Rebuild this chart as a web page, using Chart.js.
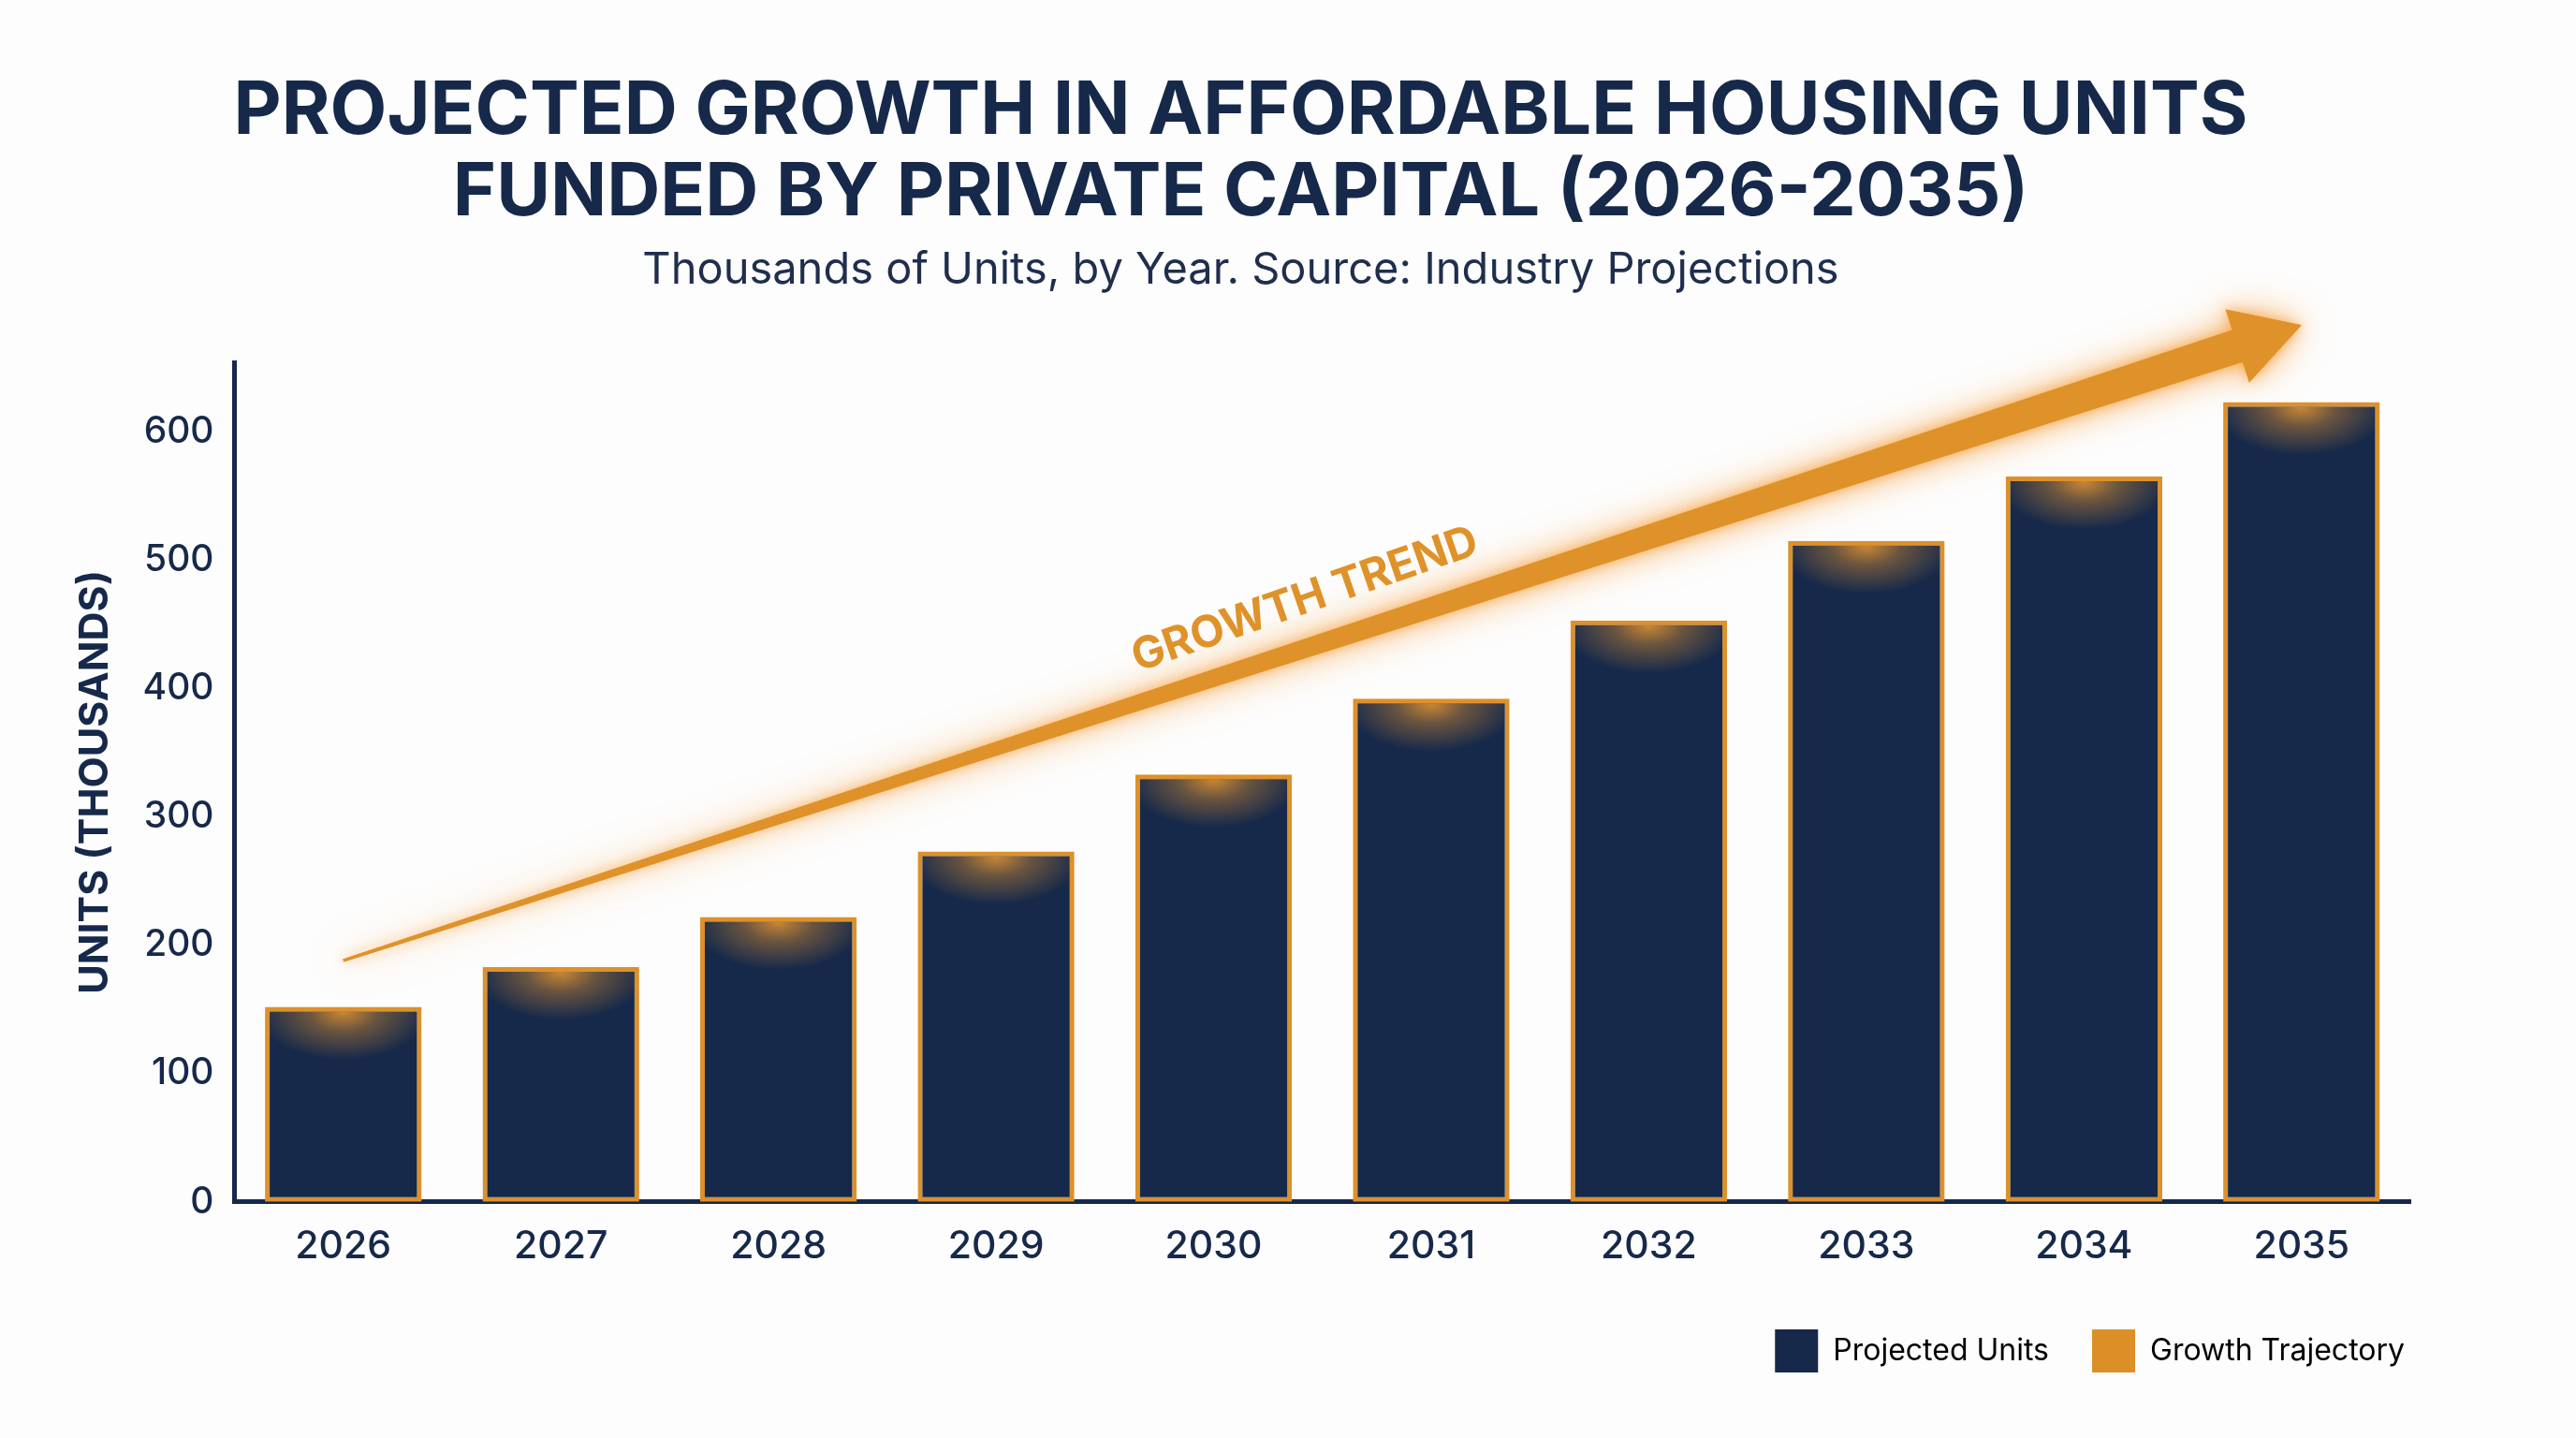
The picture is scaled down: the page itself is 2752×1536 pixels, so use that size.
<!DOCTYPE html>
<html>
<head>
<meta charset="utf-8">
<script src="https://cdn.jsdelivr.net/npm/chart.js@4.4.1/dist/chart.umd.min.js"></script>
<style>
  html, body { margin: 0; padding: 0; background: #fdfdfd; }
  #wrap { width: 2752px; height: 1536px; position: relative; }
</style>
</head>
<body>
<div id="wrap"><canvas id="housing"></canvas></div>
<script>
// data
var years = ["2026", "2027", "2028", "2029", "2030", "2031", "2032", "2033", "2034", "2035"];
var projectedUnits = [152, 183, 222, 273, 333, 392, 453, 515, 565, 623];
var growthTrajectory = [188, 242, 297, 351, 406, 460, 514, 569, 624, 683];
var yTickValues = [0, 100, 200, 300, 400, 500, 600];

var NAVY = "#16294a";
var ORANGE = "#e0922a";
var FONT = "Inter";

// white page behind everything
var background = {
    id: "background",
    beforeDraw: function (chart) {
        var ctx = chart.ctx;
        ctx.save();
        ctx.fillStyle = "#fdfdfd";
        ctx.fillRect(0, 0, chart.width, chart.height);
        ctx.restore();
    }
};

// legend items are spaced wider than the chart padding allows, push it right
var legendNudge = {
    id: "legendNudge",
    afterLayout: function (chart) {
        chart.legend.left += 40;
        chart.legend.right += 40;
    }
};

// soft orange glow at the top of every bar
var barGlow = {
    id: "barGlow",
    afterDatasetDraw: function (chart, args) {
        if (args.index !== 0) return;
        var ctx = chart.ctx;
        args.meta.data.forEach(function (bar) {
            var w = bar.width, left = bar.x - w / 2, top = bar.y;
            ctx.save();
            ctx.beginPath();
            ctx.rect(left + 5, top + 5, w - 10, bar.base - top - 10);
            ctx.clip();
            ctx.translate(bar.x, top + 6);
            ctx.scale(1, 0.55);
            var g = ctx.createRadialGradient(0, 0, 0, 0, 0, w * 0.55);
            g.addColorStop(0, "rgba(232,150,48,0.85)");
            g.addColorStop(0.4, "rgba(232,150,48,0.4)");
            g.addColorStop(1, "rgba(232,150,48,0)");
            ctx.fillStyle = g;
            ctx.fillRect(-w, -w, w * 2, w * 2);
            ctx.restore();
        });
    }
};

// tapered glowing arrow through the trajectory points, plus its label
var growthArrow = {
    id: "growthArrow",
    afterDatasetsDraw: function (chart) {
        var pts = chart.getDatasetMeta(1).data;
        var first = pts[0], tip = pts[pts.length - 1];
        var dx = tip.x - first.x, dy = tip.y - first.y;
        var len = Math.hypot(dx, dy);
        var ux = dx / len, uy = dy / len, nx = -uy, ny = ux;
        var headLen = 72, headW = 82, w0 = 3, w1 = 36;
        var bx = tip.x - ux * headLen, by = tip.y - uy * headLen;
        var ctx = chart.ctx;

        function shape() {
            ctx.beginPath();
            ctx.moveTo(first.x + nx * w0 / 2, first.y + ny * w0 / 2);
            ctx.lineTo(bx + nx * w1 / 2, by + ny * w1 / 2);
            ctx.lineTo(bx + nx * headW / 2, by + ny * headW / 2);
            ctx.lineTo(tip.x, tip.y);
            ctx.lineTo(bx - nx * headW / 2, by - ny * headW / 2);
            ctx.lineTo(bx - nx * w1 / 2, by - ny * w1 / 2);
            ctx.lineTo(first.x - nx * w0 / 2, first.y - ny * w0 / 2);
            ctx.closePath();
        }

        ctx.save();
        ctx.shadowColor = "rgba(245,150,40,0.7)";
        ctx.shadowBlur = 40;
        ctx.fillStyle = ORANGE;
        shape();
        ctx.fill();
        ctx.shadowBlur = 14;
        shape();
        ctx.fill();
        ctx.restore();

        // "GROWTH TREND" label sitting above the arrow
        var xs = chart.scales.x, ys = chart.scales.y;
        var lx = xs.getPixelForValue(4.42), ly = ys.getPixelForValue(469);
        ctx.save();
        ctx.translate(lx, ly);
        ctx.rotate(Math.atan2(dy, dx) - 0.02);
        ctx.font = "bold 47px " + FONT;
        ctx.fillStyle = ORANGE;
        ctx.textAlign = "center";
        ctx.textBaseline = "middle";
        ctx.fillText("GROWTH TREND", 0, 0);
        ctx.restore();
    }
};

var ctx1 = document.getElementById("housing").getContext("2d");
var housingChart = new Chart(ctx1, {
    data: {
        labels: years,
        datasets: [{
                type: "bar",
                label: "Projected Units",
                data: projectedUnits,
                backgroundColor: NAVY,
                borderColor: "#dc912c",
                borderWidth: 5,
                borderSkipped: false,
                barPercentage: 0.72,
                categoryPercentage: 1
            },
            {
                type: "line",
                label: "Growth Trajectory",
                data: growthTrajectory,
                borderColor: ORANGE,
                backgroundColor: ORANGE,
                borderWidth: 0,
                pointRadius: 0,
                clip: false
            }
        ]
    },
    options: {
        responsive: true,
        maintainAspectRatio: false,
        devicePixelRatio: 1,
        animation: false,
        layout: {
            padding: { top: 20, left: 76, right: 177, bottom: 60 }
        },
        plugins: {
            title: {
                display: true,
                text: ["PROJECTED GROWTH IN AFFORDABLE HOUSING UNITS", "FUNDED BY PRIVATE CAPITAL (2026-2035)"],
                color: NAVY,
                font: { family: FONT, size: 79, weight: "bold", lineHeight: 1.11 },
                padding: { top: 55, bottom: 13 }
            },
            subtitle: {
                display: true,
                text: "Thousands of Units, by Year. Source: Industry Projections",
                color: "#1f2e4d",
                font: { family: FONT, size: 47, weight: "normal", lineHeight: 1.1 },
                padding: { top: 0, bottom: 72 }
            },
            legend: {
                position: "bottom",
                align: "end",
                labels: {
                    boxWidth: 46,
                    boxHeight: 46,
                    padding: 46,
                    color: "#1f2e4d",
                    font: { family: FONT, size: 32 },
                    generateLabels: function () {
                        return [
                            { text: "Projected Units", fillStyle: "#16294a", strokeStyle: "#16294a", lineWidth: 0, datasetIndex: 0 },
                            { text: "Growth Trajectory", fillStyle: "#dd8f27", strokeStyle: "#dd8f27", lineWidth: 0, datasetIndex: 1 }
                        ];
                    }
                }
            },
            tooltip: { enabled: false }
        },
        scales: {
            x: {
                grid: { display: false, drawTicks: false },
                border: { display: true, color: NAVY, width: 5 },
                ticks: { color: NAVY, padding: 23, font: { family: FONT, size: 41, weight: "500" } },
                afterFit: function (scale) { scale.height -= 5; }
            },
            y: {
                min: 0,
                max: 654,
                grid: { display: false, drawTicks: false },
                border: { display: true, color: NAVY, width: 5 },
                afterBuildTicks: function (scale) {
                    scale.ticks = yTickValues.map(function (v) { return { value: v }; });
                },
                ticks: { color: NAVY, padding: 22, font: { family: FONT, size: 39, weight: "500" } },
                title: {
                    display: true,
                    text: "UNITS (THOUSANDS)",
                    color: NAVY,
                    font: { family: FONT, size: 43, weight: "bold", lineHeight: 1.2 },
                    padding: { top: 0, bottom: 3 }
                }
            }
        }
    },
    plugins: [background, legendNudge, barGlow, growthArrow]
});
</script>
</body>
</html>
